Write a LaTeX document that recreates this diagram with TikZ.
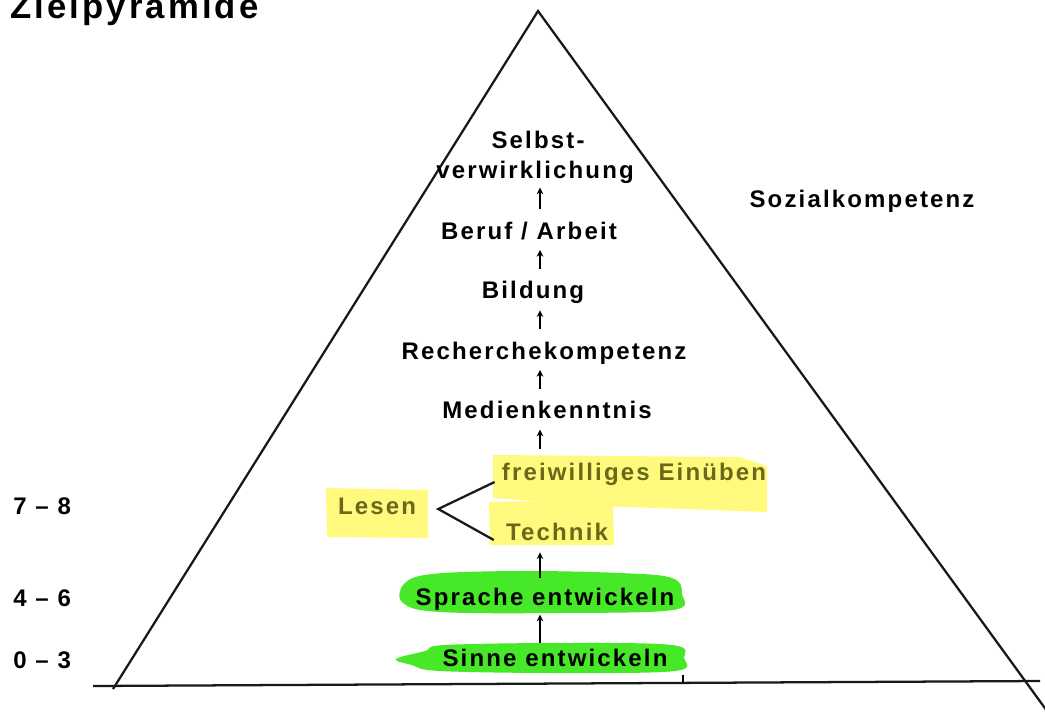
\documentclass[tikz,border=0pt]{standalone}
\usepackage{fontspec}
\setmainfont{Liberation Sans}[LetterSpace=9]
\usetikzlibrary{arrows.meta}
\definecolor{hlyellow}{RGB}{255,250,125}
\definecolor{hlgreen}{RGB}{70,232,40}
\definecolor{olive}{RGB}{105,105,25}
\begin{document}
\begin{tikzpicture}[x=0.75pt,y=-0.75pt,
  lbl/.style={font=\fontsize{18}{20}\selectfont\bfseries, inner sep=0pt, text height=13.5pt, text depth=3.6pt},
  hl/.style={lbl, text=olive},
  side/.style={line width=1.7pt, black!90},
  arr/.style={line width=1.1pt, -{Stealth[length=5pt,width=5pt]}},
  bracket/.style={line width=1.7pt, black!90}]
\useasboundingbox (0,0) rectangle (1045,715);

% highlights
\fill[hlyellow] (493,455) -- (740,457) -- (767,466) -- (767,512) -- (600,506) -- (493,498) -- cycle;
\fill[hlyellow] (489,502) -- (613,500) -- (614,545) -- (490,545) -- cycle;
\fill[hlyellow] (326,488) -- (428,490) -- (428,538) -- (327,537) -- cycle;
\fill[hlgreen] plot[smooth cycle, tension=0.6] coordinates {(404,584) (432,574) (520,571) (620,573) (672,578) (682,594) (673,610) (560,613) (440,612) (403,603)};
\fill[hlgreen] plot[smooth cycle, tension=0.6] coordinates {(396,659) (425,651) (445,645) (560,643) (672,645) (684,658) (675,671) (560,673) (440,671) (412,665)};

% pyramid
\coordinate (apex) at (538,11);
\coordinate (bl) at (113,689);
\coordinate (br) at (1047,711);
\coordinate (base0) at (93,686);
\coordinate (base1) at (1040,681);
\coordinate (tick) at (683,675);
\coordinate (tickb) at (683,683);
\draw[side] (bl) -- (apex) -- (br);
\draw[side] (base0) -- (base1);
\draw[line width=1.1pt] (tickb) -- (tick);

% title
\node[font=\fontsize{26}{28}\selectfont\bfseries, inner sep=0pt, anchor=base west] (title) at (10,18) {Zielpyramide};

% ladder
\node[lbl] (selbst) at (538,142) {Selbst-};
\node[lbl] (verw) at (535,172) {verwirklichung};
\node[lbl] (beruf) at (529,233) {Beruf / Arbeit};
\node[lbl] (bildung) at (533,292) {Bildung};
\node[lbl] (rech) at (544,353) {Recherchekompetenz};
\node[lbl] (medien) at (547,412) {Medienkenntnis};
\node[hl] (frei) at (634,474) {freiwilliges Einüben};
\node[hl] (tech) at (557,534) {Technik};
\node[hl] (lesen) at (377,508) {Lesen};
\node[lbl] (sprache) at (545,599) {Sprache entwickeln};
\node[lbl] (sinne) at (555,660) {Sinne entwickeln};

\node[lbl] (sozial) at (862,201) {Sozialkompetenz};
\node[lbl, anchor=west] (a78) at (13,508) {7 – 8};
\node[lbl, anchor=west] (a46) at (13,600) {4 – 6};
\node[lbl, anchor=west] (a03) at (13,662) {0 – 3};

% arrows
\coordinate (axis) at (540,0);
\draw[arr, shorten <=9pt, shorten >=3pt] (beruf.north -| axis) -- (verw.south -| axis);
\draw[arr, shorten <=8.5pt, shorten >=4pt] (bildung.north -| axis) -- (beruf.south -| axis);
\draw[arr, shorten <=9pt, shorten >=5pt] (rech.north -| axis) -- (bildung.south -| axis);
\draw[arr, shorten <=8.5pt, shorten >=4pt] (medien.north -| axis) -- (rech.south -| axis);
\draw[arr, shorten <=10pt, shorten >=4.5pt] (frei.north -| axis) -- (medien.south -| axis);
\draw[arr, shorten <=7pt, shorten >=5pt] (sprache.north -| axis) -- (tech.south -| axis);
\draw[arr, shorten <=4pt, shorten >=3pt] (sinne.north -| axis) -- (sprache.south -| axis);

% bracket
\draw[bracket] ([shift={(-7,8)}]frei.west) -- ([shift={(22,1)}]lesen.east) -- ([shift={(-12,6)}]tech.west);
\end{tikzpicture}
\end{document}
